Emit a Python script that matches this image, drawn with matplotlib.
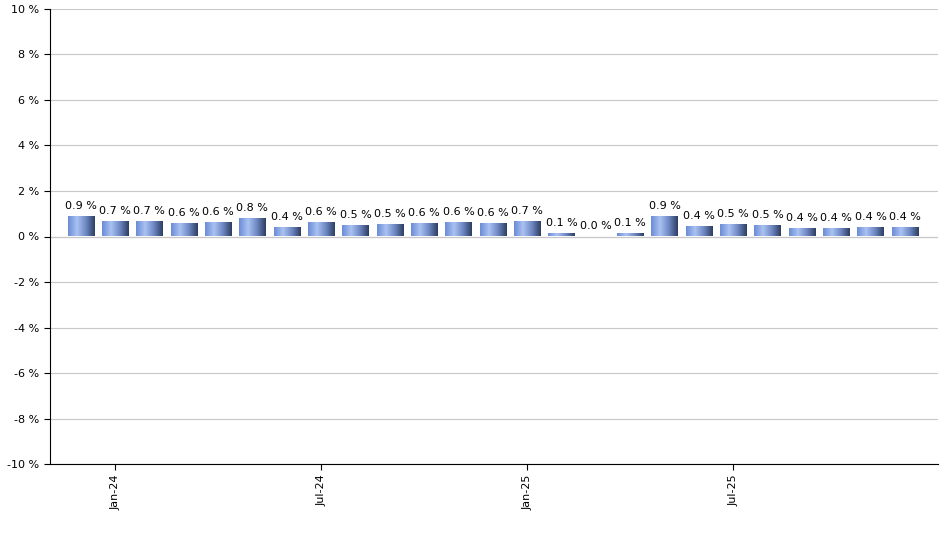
import numpy as np
import matplotlib.pyplot as plt
from matplotlib.colors import LinearSegmentedColormap

months = ['Dec-23', 'Jan-24', 'Feb-24', 'Mar-24', 'Apr-24', 'May-24', 'Jun-24', 'Jul-24',
          'Aug-24', 'Sep-24', 'Oct-24', 'Nov-24', 'Dec-24', 'Jan-25', 'Feb-25', 'Mar-25',
          'Apr-25', 'May-25', 'Jun-25', 'Jul-25', 'Aug-25', 'Sep-25', 'Oct-25', 'Nov-25', 'Dec-25']
values = [0.91, 0.70, 0.68, 0.61, 0.64, 0.80, 0.42, 0.64, 0.52, 0.53, 0.60, 0.63, 0.61, 0.70,
          0.14, 0.04, 0.14, 0.91, 0.45, 0.54, 0.51, 0.38, 0.38, 0.41, 0.41]
labels = ['0.9 %', '0.7 %', '0.7 %', '0.6 %', '0.6 %', '0.8 %', '0.4 %', '0.6 %', '0.5 %',
          '0.5 %', '0.6 %', '0.6 %', '0.6 %', '0.7 %', '0.1 %', '0.0 %', '0.1 %', '0.9 %',
          '0.4 %', '0.5 %', '0.5 %', '0.4 %', '0.4 %', '0.4 %', '0.4 %']
tick_months = ['Jan-24', 'Jul-24', 'Jan-25', 'Jul-25']

fig = plt.figure(figsize=(9.4, 5.5), dpi=100)
ax = fig.add_axes([0.053, 0.156, 0.945, 0.828])

cmap = LinearSegmentedColormap.from_list('bar', ['#6c8cd6', '#a9c2f2', '#6f88c4', '#2e3f63'])
grad = np.linspace(0, 1, 64).reshape(1, -1)
x = np.arange(len(values))
w = 0.76
bars = ax.bar(x, values, width=w, color='none', zorder=3)
for b, lab in zip(bars, labels):
    x0, h = b.get_x(), b.get_height()
    im = ax.imshow(grad, cmap=cmap, aspect='auto', extent=[x0, x0 + w, 0, h], zorder=3)
    im.set_clip_path(b)
    ax.text(x0 + w / 2, h + 0.22, lab, ha='center', va='bottom', fontsize=8, zorder=4)

ax.set_xlim(-0.9, 24.97)
ax.set_ylim(-10, 10)
ax.set_yticks(range(-10, 11, 2))
ax.set_yticklabels([f'{v} %' for v in range(-10, 11, 2)], fontsize=8)
ax.set_xticks([months.index(m) for m in tick_months])
ax.set_xticklabels(tick_months, rotation=90, fontsize=8)
ax.grid(axis='y', color='#c8c8c8', linewidth=0.8, zorder=0)
ax.axhline(0, color='#a0a0a0', linewidth=0.8, zorder=1)
for s in ['top', 'right']:
    ax.spines[s].set_visible(False)
ax.tick_params(length=4)

fig.savefig('out.png', dpi=100)
